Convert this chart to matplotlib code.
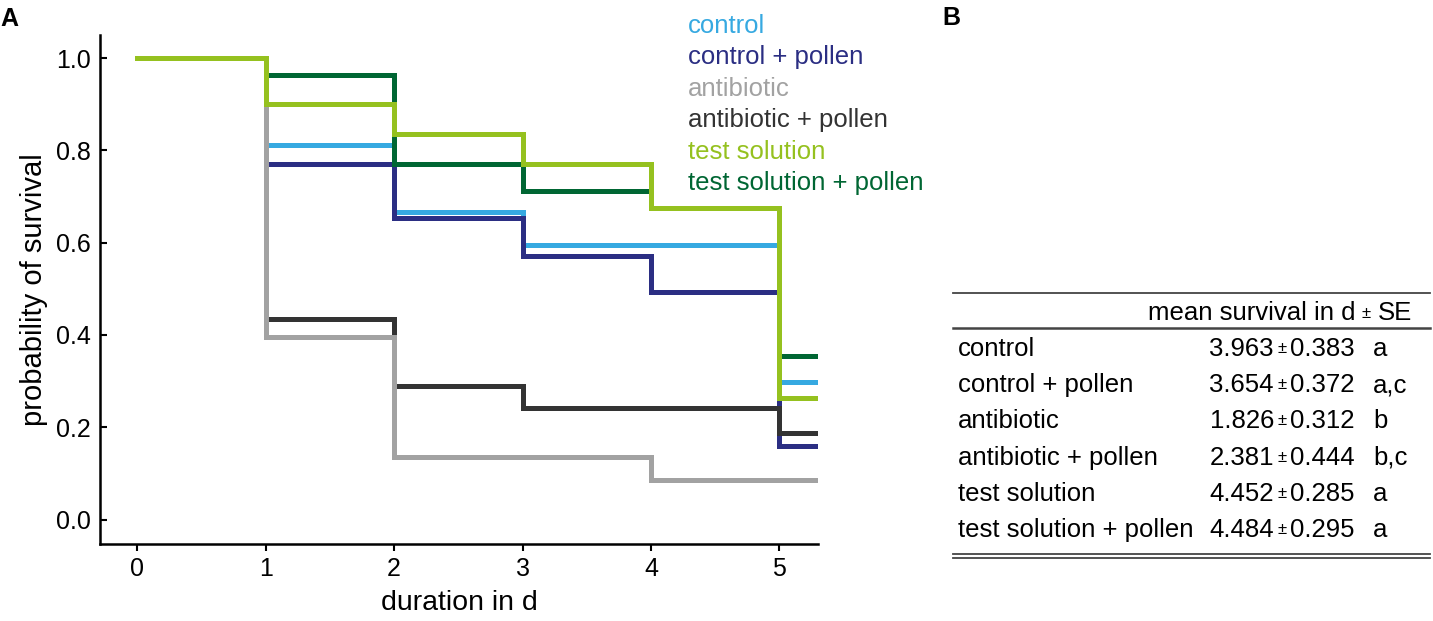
import matplotlib
matplotlib.use('Agg')
import matplotlib.pyplot as plt
from matplotlib.lines import Line2D

plt.rcParams['font.family'] = ['Liberation Sans', 'DejaVu Sans']

# survival curves (Kaplan-Meier steps, value after each day)
days = [0, 1, 2, 3, 4, 5]
t_end = 5.3
groups = ['control', 'control + pollen', 'antibiotic', 'antibiotic + pollen',
          'test solution', 'test solution + pollen']
colors = ['#36a9e1', '#2b2e83', '#a2a2a2', '#333333', '#95c11f', '#006633']
control = [1.0, 0.812, 0.666, 0.596, 0.596, 0.298]
control_pollen = [1.0, 0.770, 0.653, 0.572, 0.493, 0.159]
antibiotic = [1.0, 0.396, 0.136, 0.136, 0.085, 0.085]
antibiotic_pollen = [1.0, 0.435, 0.289, 0.242, 0.242, 0.188]
test = [1.0, 0.900, 0.835, 0.770, 0.675, 0.263]
test_pollen = [1.0, 0.964, 0.770, 0.712, 0.675, 0.354]
curves = [control, control_pollen, antibiotic, antibiotic_pollen, test, test_pollen]

# table B
means = ['3.963', '3.654', '1.826', '2.381', '4.452', '4.484']
ses = ['0.383', '0.372', '0.312', '0.444', '0.285', '0.295']
letters = ['a', 'a,c', 'b', 'b,c', 'a', 'a']

W, H = 1433, 621
fig = plt.figure(figsize=(W / 100, H / 100), dpi=100)
ax = fig.add_axes([100 / W, 1 - 544 / H, 718 / W, 509 / H])

order = [0, 1, 3, 2, 5, 4]
for i in order:
    ax.step(days + [t_end], curves[i] + [curves[i][-1]], where='post',
            color=colors[i], lw=3.6, solid_joinstyle='miter')

ax.set_xlim(-0.29, t_end)
ax.set_ylim(-0.053, 1.05)
ax.set_xticks(days)
ax.set_yticks([0, 0.2, 0.4, 0.6, 0.8, 1.0])
ax.set_yticklabels(['0.0', '0.2', '0.4', '0.6', '0.8', '1.0'])
for s in ['top', 'right']:
    ax.spines[s].set_visible(False)
for s in ['left', 'bottom']:
    ax.spines[s].set_linewidth(1.8)
ax.tick_params(axis='x', direction='out', length=5, width=1.5, pad=4.5, labelsize=18)
ax.tick_params(axis='y', direction='in', length=5, width=1.5, pad=6.5, labelsize=18)
ax.set_xlabel('duration in d', fontsize=20.5, labelpad=6)
ax.set_ylabel('probability of survival', fontsize=21, labelpad=6)

# legend as coloured text
for i, g in enumerate(groups):
    fig.text(688 / W, 1 - (33 + 31.4 * i) / H, g, color=colors[i],
             fontsize=18.5, va='baseline', ha='left')

fig.text(0, 1 - 26 / H, 'A', fontsize=18, fontweight='bold', va='baseline')
fig.text(942 / W, 1 - 25 / H, 'B', fontsize=18, fontweight='bold', va='baseline')

# table
def hline(y, x0=953, x1=1430, lw=1.3):
    fig.add_artist(Line2D([x0 / W, x1 / W], [1 - y / H, 1 - y / H],
                          transform=fig.transFigure, color='#444444', lw=lw))

hline(293)
hline(328, lw=1.8)
hline(554)
hline(558)

fs = 18.5
fig.text(1355 / W, 1 - 320 / H, 'mean survival in d', fontsize=fs, ha='right', va='baseline')
fig.text(1366 / W, 1 - 318 / H, '±', fontsize=12, ha='center', va='baseline')
fig.text(1378 / W, 1 - 320 / H, 'SE', fontsize=fs, ha='left', va='baseline')
for i, g in enumerate(groups):
    yb = 1 - (356 + 36.2 * i) / H
    fig.text(958 / W, yb, g, fontsize=fs, ha='left', va='baseline')
    fig.text(1274 / W, yb, means[i], fontsize=fs, ha='right', va='baseline')
    fig.text(1282 / W, yb + 3 / H, '±', fontsize=12, ha='center', va='baseline')
    fig.text(1290 / W, yb, ses[i], fontsize=fs, ha='left', va='baseline')
    fig.text(1373 / W, yb, letters[i], fontsize=fs, ha='left', va='baseline')

fig.savefig('out.png', dpi=100)
